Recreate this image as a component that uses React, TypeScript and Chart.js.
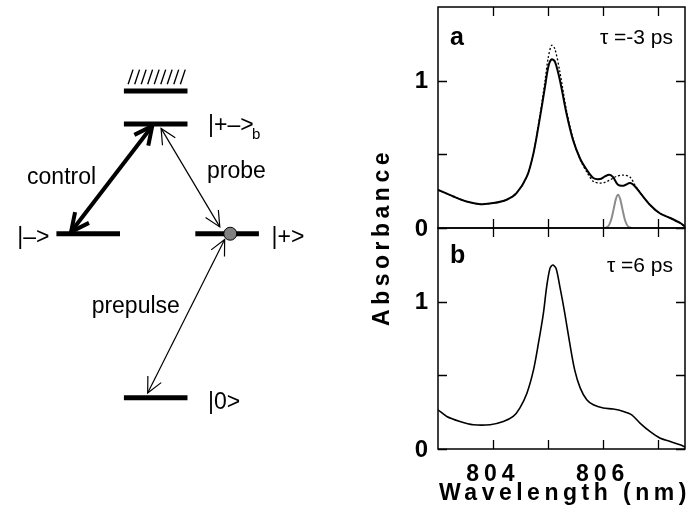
import { useEffect, useRef } from 'react';
import { Chart, registerables } from 'chart.js';

Chart.register(...registerables);

const FONT = 'Arial, "Liberation Sans", Helvetica, sans-serif';
const CW = 689;
const CH = 516;

// ---------------- Spectra data (wavelength in nm, absorbance) ----------------
const wavelengthA = [803.0, 803.28, 803.52, 803.77, 804.01, 804.25, 804.43, 804.62, 804.74, 804.86, 804.95, 805.01, 805.07, 805.13, 805.22, 805.34, 805.46, 805.59, 805.71, 805.83, 805.95, 806.04, 806.12, 806.19, 806.28, 806.38, 806.5, 806.59, 806.71, 806.86, 807.04, 807.23, 807.41, 807.5];
const absorbanceA = [0.259, 0.214, 0.18, 0.162, 0.169, 0.192, 0.237, 0.35, 0.508, 0.756, 0.959, 1.095, 1.145, 1.129, 1.005, 0.779, 0.598, 0.47, 0.395, 0.339, 0.332, 0.35, 0.361, 0.345, 0.293, 0.287, 0.305, 0.282, 0.226, 0.158, 0.1, 0.068, 0.034, 0.01];

const wavelengthADotted = [803.0, 803.28, 803.52, 803.77, 804.01, 804.25, 804.43, 804.62, 804.74, 804.86, 804.95, 805.01, 805.07, 805.13, 805.22, 805.34, 805.46, 805.59, 805.71, 805.83, 805.95, 806.04, 806.12, 806.25, 806.38, 806.5, 806.59, 806.71, 806.86, 807.04, 807.23, 807.41, 807.5];
const absorbanceADotted = [0.259, 0.214, 0.18, 0.162, 0.169, 0.192, 0.237, 0.35, 0.51, 0.77, 1.0, 1.16, 1.24, 1.215, 1.06, 0.8, 0.605, 0.465, 0.38, 0.316, 0.305, 0.31, 0.323, 0.35, 0.359, 0.345, 0.29, 0.226, 0.158, 0.1, 0.068, 0.034, 0.01];

const wavelengthProbe = [806.04, 806.08, 806.12, 806.16, 806.2, 806.24, 806.28, 806.32, 806.36, 806.4, 806.44, 806.48, 806.53];
const absorbanceProbe = [0.0, 0.006, 0.023, 0.063, 0.128, 0.196, 0.226, 0.196, 0.128, 0.063, 0.023, 0.006, 0.0];

const wavelengthB = [803.0, 803.16, 803.4, 803.64, 803.95, 804.19, 804.37, 804.49, 804.62, 804.74, 804.83, 804.92, 804.98, 805.04, 805.09, 805.15, 805.22, 805.31, 805.4, 805.49, 805.59, 805.71, 805.83, 806.01, 806.19, 806.38, 806.53, 806.68, 806.86, 807.04, 807.23, 807.41, 807.5];
const absorbanceB = [0.266, 0.221, 0.187, 0.165, 0.165, 0.187, 0.221, 0.278, 0.379, 0.537, 0.718, 0.921, 1.102, 1.226, 1.249, 1.226, 1.102, 0.921, 0.718, 0.537, 0.415, 0.334, 0.3, 0.278, 0.271, 0.255, 0.232, 0.176, 0.119, 0.075, 0.051, 0.029, 0.014];

const xTickValues = [804, 805, 806, 807];
const xTickLabels = ['804', '', '806', ''];
const yTickValues = [0, 0.5, 1];
const yTickLabels = ['0', '', '1'];

// ---------------- Level diagram (diagram units = page pixels) ----------------
const levelX0 = [119, 119, 50, 192, 119];
const levelX1 = [184, 184, 115, 257, 184];
const levelY = [86, 120, 233, 233, 402];
const hatchX = [123.3, 130, 136.7, 143.3, 150, 156.7, 163.3, 170, 176.7];
const arrowStart = [[148, 122], [157, 124.5], [222, 239]];
const arrowEnd = [[65, 231], [217, 226], [143.3, 397]];
const arrowWidth = [4, 1.2, 1.2];
const arrowHeadLen = [20, 17, 17];
const populatedState = [[227.7, 233]];

function pts(xs: number[], ys: number[]) {
  return xs.map((x, i) => ({ x, y: ys[i] }));
}

function setSpacing(ctx: any, v: string) {
  if ('letterSpacing' in ctx) ctx.letterSpacing = v;
}

function makePanelPlugin(letter: string, tau: string, tauBaseline: number, letterBaseline: number, isBottom: boolean) {
  return {
    id: 'panel_' + letter,
    afterDatasetsDraw(chart: any) {
      const { ctx, chartArea: ca, scales } = chart;
      const xs = scales.x;
      const ys = scales.y;
      ctx.save();
      ctx.strokeStyle = '#000';
      ctx.lineWidth = 1.5;
      ctx.strokeRect(ca.left, ca.top, ca.right - ca.left, ca.bottom - ca.top);
      ctx.lineWidth = 1.3;
      ctx.beginPath();
      xTickValues.forEach((v) => {
        const px = Math.round(xs.getPixelForValue(v)) + 0.5;
        ctx.moveTo(px, ca.bottom);
        ctx.lineTo(px, ca.bottom - 9);
        ctx.moveTo(px, ca.top);
        ctx.lineTo(px, ca.top + 9);
      });
      yTickValues.forEach((v) => {
        const py = Math.round(ys.getPixelForValue(v)) + 0.5;
        ctx.moveTo(ca.left, py);
        ctx.lineTo(ca.left + 9, py);
        ctx.moveTo(ca.right, py);
        ctx.lineTo(ca.right - 9, py);
      });
      ctx.stroke();

      ctx.fillStyle = '#000';
      ctx.font = `bold 24px ${FONT}`;
      ctx.textAlign = 'right';
      ctx.textBaseline = 'middle';
      yTickValues.forEach((v, i) => {
        if (!yTickLabels[i]) return;
        ctx.fillText(yTickLabels[i], ca.left - 10, ys.getPixelForValue(v) + 1);
      });

      ctx.textAlign = 'left';
      ctx.textBaseline = 'alphabetic';
      ctx.font = `bold 25px ${FONT}`;
      ctx.fillText(letter, ca.left + 12, letterBaseline);
      ctx.textAlign = 'right';
      ctx.font = `21px ${FONT}`;
      ctx.fillText(tau, ca.right - 12, tauBaseline);

      if (isBottom) {
        ctx.font = `bold 23px ${FONT}`;
        ctx.textAlign = 'center';
        setSpacing(ctx, '5px');
        xTickValues.forEach((v, i) => {
          if (!xTickLabels[i]) return;
          ctx.fillText(xTickLabels[i], xs.getPixelForValue(v), 481);
        });
        ctx.font = `bold 23px ${FONT}`;
        setSpacing(ctx, '4.5px');
        ctx.textAlign = 'left';
        ctx.fillText('Wavelength (nm)', 439, 500);
        ctx.save();
        ctx.translate(389, 237);
        ctx.rotate(-Math.PI / 2);
        ctx.textAlign = 'center';
        ctx.fillText('Absorbance', 0, 0);
        ctx.restore();
        setSpacing(ctx, '0px');
      }
      ctx.restore();
    },
  };
}

const diagramPlugin = {
  id: 'diagram',
  afterDatasetsDraw(chart: any) {
    const { ctx, scales } = chart;
    const X = (v: number) => scales.x.getPixelForValue(v);
    const Y = (v: number) => scales.y.getPixelForValue(v);
    ctx.save();
    ctx.strokeStyle = '#000';
    ctx.lineCap = 'butt';
    // hatch above continuum
    ctx.lineWidth = 1.4;
    ctx.beginPath();
    hatchX.forEach((hx) => {
      ctx.moveTo(X(hx), Y(79));
      ctx.lineTo(X(hx + 5), Y(64));
    });
    ctx.stroke();
    // arrow heads
    arrowStart.forEach((s, i) => {
      const e = arrowEnd[i];
      const heads = [
        [s, e],
        [e, s],
      ];
      ctx.lineWidth = arrowWidth[i];
      ctx.lineJoin = 'miter';
      heads.forEach(([tip, tail]) => {
        const tx = X(tip[0]);
        const ty = Y(tip[1]);
        const dx = X(tail[0]) - tx;
        const dy = Y(tail[1]) - ty;
        const len = Math.hypot(dx, dy);
        const ux = dx / len;
        const uy = dy / len;
        const L = arrowHeadLen[i];
        const a = (26 * Math.PI) / 180;
        const c = Math.cos(a);
        const sn = Math.sin(a);
        ctx.beginPath();
        ctx.moveTo(tx + L * (ux * c - uy * sn), ty + L * (ux * sn + uy * c));
        ctx.lineTo(tx, ty);
        ctx.lineTo(tx + L * (ux * c + uy * sn), ty + L * (-ux * sn + uy * c));
        ctx.stroke();
      });
    });
    // labels
    ctx.fillStyle = '#000';
    ctx.textAlign = 'left';
    ctx.textBaseline = 'alphabetic';
    ctx.font = `23px ${FONT}`;
    ctx.fillText('|+\u2013>', X(205), Y(128));
    ctx.fillText('|\u2013>', X(10), Y(244));
    ctx.fillText('|+>', X(270), Y(244));
    ctx.fillText('|0>', X(205), Y(414));
    ctx.fillText('control', X(20), Y(182));
    ctx.fillText('probe', X(204), Y(176));
    ctx.fillText('prepulse', X(86), Y(315));
    ctx.font = `15px ${FONT}`;
    ctx.fillText('b', X(250), Y(135));
    ctx.restore();
  },
};

export default function App() {
  const diagRef = useRef<HTMLCanvasElement>(null);
  const aRef = useRef<HTMLCanvasElement>(null);
  const bRef = useRef<HTMLCanvasElement>(null);

  useEffect(() => {
    const charts: Chart[] = [];
    const common = {
      animation: false as const,
      responsive: false,
      devicePixelRatio: 1,
      events: [] as any[],
      plugins: { legend: { display: false }, tooltip: { enabled: false } },
      elements: { point: { radius: 0 } },
    };

    // Diagram
    const levelSets = levelY.map((y, i) => ({
      data: [
        { x: levelX0[i], y },
        { x: levelX1[i], y },
      ],
      showLine: true,
      borderColor: '#000',
      borderWidth: 5,
      pointRadius: 0,
    }));
    const arrowSets = arrowStart.map((s, i) => ({
      data: [
        { x: s[0], y: s[1] },
        { x: arrowEnd[i][0], y: arrowEnd[i][1] },
      ],
      showLine: true,
      borderColor: '#000',
      borderWidth: arrowWidth[i],
      pointRadius: 0,
    }));
    const circleSet = {
      data: populatedState.map((p) => ({ x: p[0], y: p[1] })),
      showLine: false,
      pointRadius: 6.5,
      pointBackgroundColor: '#808080',
      pointBorderColor: '#000',
      pointBorderWidth: 1,
    };
    charts.push(
      new Chart(diagRef.current!, {
        type: 'scatter',
        data: { datasets: [circleSet, ...levelSets, ...arrowSets] as any },
        options: {
          ...common,
          layout: { padding: 0 },
          scales: {
            x: { type: 'linear', min: 0, max: CW, display: false },
            y: { type: 'linear', min: 0, max: CH, reverse: true, display: false },
          },
        } as any,
        plugins: [diagramPlugin],
      })
    );

    const specScales = {
      x: { type: 'linear', min: 803, max: 807.5, display: false },
      y: { type: 'linear', min: 0, max: 1.5, display: false },
    };

    charts.push(
      new Chart(aRef.current!, {
        type: 'line',
        data: {
          datasets: [
            { data: pts(wavelengthA, absorbanceA), borderColor: '#000', borderWidth: 2, tension: 0.3, pointRadius: 0 },
            { data: pts(wavelengthADotted, absorbanceADotted), borderColor: '#000', borderWidth: 1.3, borderDash: [2, 2], tension: 0.3, pointRadius: 0 },
            { data: pts(wavelengthProbe, absorbanceProbe), borderColor: '#8c8c8c', borderWidth: 2, tension: 0.3, pointRadius: 0 },
          ] as any,
        },
        options: {
          ...common,
          layout: { padding: { left: 438, right: 4, top: 7, bottom: CH - 228 } },
          scales: specScales,
        } as any,
        plugins: [makePanelPlugin('a', '\u03c4 =-3 ps', 43.5, 45, false)],
      })
    );

    charts.push(
      new Chart(bRef.current!, {
        type: 'line',
        data: {
          datasets: [
            { data: pts(wavelengthB, absorbanceB), borderColor: '#000', borderWidth: 1.6, tension: 0.3, pointRadius: 0 },
          ] as any,
        },
        options: {
          ...common,
          layout: { padding: { left: 438, right: 4, top: 228, bottom: CH - 449 } },
          scales: specScales,
        } as any,
        plugins: [makePanelPlugin('b', '\u03c4 =6 ps', 271.5, 263, true)],
      })
    );

    return () => charts.forEach((c) => c.destroy());
  }, []);

  const cs = { position: 'absolute' as const, left: 0, top: 0, width: CW, height: CH };
  return (
    <div style={{ position: 'absolute', left: 0, top: 0, width: CW, height: CH, background: '#fff' }}>
      <canvas ref={diagRef} width={CW} height={CH} style={cs} />
      <canvas ref={aRef} width={CW} height={CH} style={cs} />
      <canvas ref={bRef} width={CW} height={CH} style={cs} />
    </div>
  );
}
